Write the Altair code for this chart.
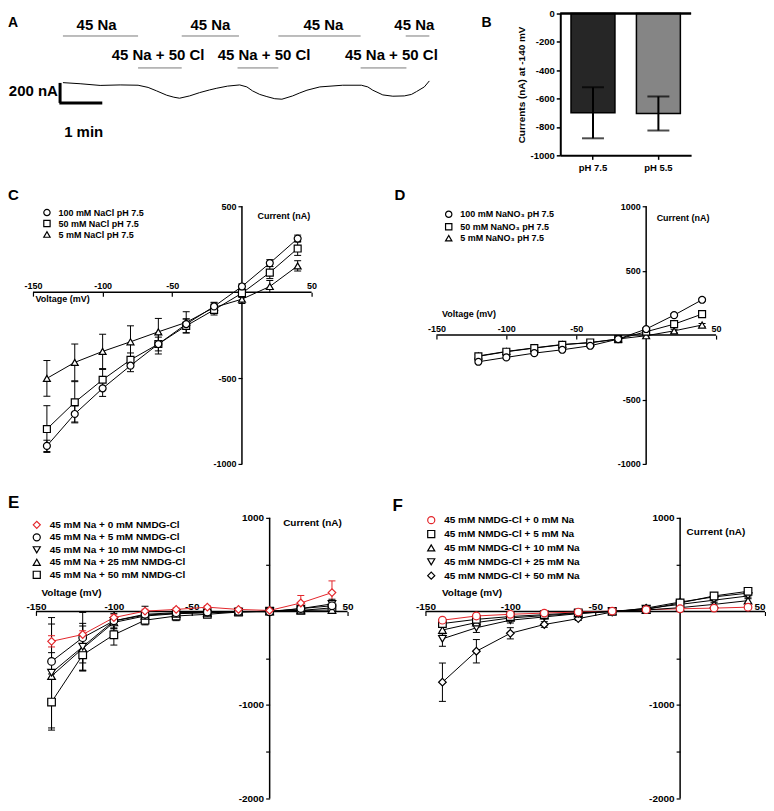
import altair as alt
import pandas as pd

FONT = "Liberation Sans, Arial, Helvetica, DejaVu Sans, sans-serif"
RED = "#e3262b"

# ---------------- Panel A : recorded current trace ----------------
trace_time_s = [0, 24, 52, 80, 105, 119, 131, 145, 155, 163, 177, 191, 205, 215, 230, 247,
                257, 265, 275, 285, 296, 306, 321, 331, 341, 359, 391, 417, 426, 433, 447,
                461, 477, 487, 494, 505, 512]
trace_current_nA = [23, 12, -5, 0, -3, -25, -60, -103, -123, -133, -110, -77, -50, -33, -12, 0,
                    -20, -60, -95, -117, -138, -143, -110, -80, -53, -20, -3, -3, -20, -53, -100,
                    -113, -110, -95, -67, -20, 40]
na_start_s = [0, 166, 301, 479]
na_end_s = [105, 246, 416, 512]
nacl_start_s = [105, 244, 416]
nacl_end_s = [166, 301, 480]
na_text = "45 Na"
nacl_text = "45 Na + 50 Cl"
scale_current_nA = 200
scale_time_s = 60

# ---------------- Panel B ----------------
b_conditions = ["pH 7.5", "pH 5.5"]
b_mean_nA = [-700, -705]
b_sem_nA = [180, 120]

# ---------------- Panel C ----------------
c_voltage = [-140, -120, -100, -80, -60, -40, -20, 0, 20, 40]
c_names = ["100 mM NaCl pH 7.5", "50 mM NaCl pH 7.5", "5 mM NaCl pH 7.5"]
c_100 = [-895, -709, -560, -428, -302, -186, -83, 33, 169, 312]
c_50 = [-797, -641, -510, -394, -302, -196, -103, -6, 114, 254]
c_5 = [-502, -409, -345, -289, -231, -176, -89, -41, 33, 153]
c_100_sem = [33, 47, 47, 35, 58, 30, 20, 15, 20, 20]
c_50_sem = [136, 120, 60, 40, 40, 40, 30, 25, 35, 40]
c_5_sem = [104, 107, 100, 93, 78, 62, 30, 25, 35, 30]

# ---------------- Panel D ----------------
d_voltage = [-120, -100, -80, -60, -40, -20, 0, 20, 40]
d_names = ["100 mM NaNO\u2083 pH 7.5", "50 mM NaNO\u2083 pH 7.5", "5 mM NaNO\u2083 pH 7.5"]
d_100 = [-207, -173, -140, -114, -83, -31, 47, 155, 274]
d_50 = [-165, -129, -101, -75, -57, -31, 26, 85, 163]
d_5 = [-162, -127, -99, -73, -60, -30, -5, 33, 78]
d_100_sem = [12, 12, 12, 12, 12, 10, 10, 12, 12]
d_50_sem = [12, 12, 12, 12, 12, 10, 10, 12, 12]
d_5_sem = [12, 12, 12, 12, 20, 10, 10, 12, 12]

# ---------------- Panel E ----------------
e_voltage = [-140, -120, -100, -80, -60, -40, -20, 0, 20, 40]
e_names = ["45 mM Na + 0 mM NMDG-Cl", "45 mM Na + 5 mM NMDG-Cl", "45 mM Na + 10 mM NMDG-Cl",
           "45 mM Na + 25 mM NMDG-Cl", "45 mM Na + 50 mM NMDG-Cl"]
e_0 = [-320, -247, -66, 3, 21, 45, 21, 10, 90, 201]
e_5 = [-535, -281, -101, -31, -14, -7, 0, -5, 30, 60]
e_10 = [-656, -378, -101, -40, -20, -10, -3, 0, 30, 80]
e_25 = [-691, -396, -118, -49, -25, -15, -5, 0, 10, 15]
e_50 = [-969, -465, -250, -94, -49, -31, -7, 3, 10, 38]
e_0_sem = [60, 40, 30, 20, 15, 15, 15, 15, 80, 125]
e_5_sem = [400, 270, 100, 40, 20, 15, 15, 15, 30, 40]
e_10_sem = [590, 250, 80, 95, 30, 20, 15, 15, 30, 50]
e_25_sem = [250, 240, 60, 40, 25, 15, 15, 15, 20, 20]
e_50_sem = [300, 170, 110, 50, 50, 20, 15, 15, 20, 30]

# ---------------- Panel F ----------------
f_voltage = [-140, -120, -100, -80, -60, -40, -20, 0, 20, 40]
f_names = ["45 mM NMDG-Cl + 0 mM Na", "45 mM NMDG-Cl + 5 mM Na", "45 mM NMDG-Cl + 10 mM Na",
           "45 mM NMDG-Cl + 25 mM Na", "45 mM NMDG-Cl + 50 mM Na"]
f_0 = [-94, -49, -31, -18, -7, 3, 18, 28, 35, 45]
f_5 = [-130, -85, -55, -35, -15, 0, 20, 90, 165, 215]
f_10 = [-199, -119, -70, -45, -20, 0, 15, 40, 75, 115]
f_25 = [-293, -175, -94, -59, -24, 0, 30, 75, 120, 165]
f_50 = [-757, -426, -234, -140, -77, -7, 35, 100, 155, 195]
f_0_sem = [15, 15, 15, 15, 15, 15, 15, 15, 15, 15]
f_5_sem = [20, 20, 15, 15, 15, 15, 15, 20, 30, 35]
f_10_sem = [40, 30, 20, 15, 15, 15, 15, 20, 25, 30]
f_25_sem = [80, 50, 30, 20, 15, 15, 15, 20, 30, 30]
f_50_sem = [205, 125, 60, 30, 20, 15, 15, 20, 35, 30]

voltage_axis_range = [-150, 50]
voltage_tick_values = [-150, -100, -50, 50]


def letter_title(text, size, dx, dy):
    return alt.TitleParams(text=text, anchor="start", frame="group", dx=dx, dy=dy, offset=0,
                           baseline="alphabetic", fontSize=size, fontWeight="bold", font=FONT,
                           color="black")


# =================== Panel A ===================
A_W, A_H = 440, 150
S_PER_PX = 1.3955
xA_scale = alt.Scale(domain=[-76.75, -76.75 + A_W * S_PER_PX], nice=False, zero=False)
yA_scale = alt.Scale(domain=[-785, 715], nice=False, zero=False)


def XA(f):
    return alt.X(f, type="quantitative", scale=xA_scale, axis=None)


def YA(f):
    return alt.Y(f, type="quantitative", scale=yA_scale, axis=None)


# layout of the annotations of panel A (in the trace's own time / current frame)
NA_LEVEL, NACL_LEVEL = 490, 170
NA_LABEL_LEVEL, NACL_LABEL_LEVEL = 595, 303
NA_LABEL_T = [47, 206, 364, 491]
NACL_LABEL_T = [133, 281, 459]
SCALE_T0, SCALE_I0 = -5, -180

df_trace = pd.DataFrame({"t": trace_time_s, "I": trace_current_nA})
df_periods = pd.DataFrame({
    "t": na_start_s + nacl_start_s,
    "t2": na_end_s + nacl_end_s,
    "I": [NA_LEVEL] * len(na_start_s) + [NACL_LEVEL] * len(nacl_start_s),
})
df_labels = pd.DataFrame({
    "t": NA_LABEL_T + NACL_LABEL_T,
    "I": [NA_LABEL_LEVEL] * len(na_start_s) + [NACL_LABEL_LEVEL] * len(nacl_start_s),
    "label": [na_text] * len(na_start_s) + [nacl_text] * len(nacl_start_s),
})
df_sbar_v = pd.DataFrame({"t": [SCALE_T0 + 1], "I": [SCALE_I0], "I2": [SCALE_I0 + scale_current_nA]})
df_sbar_h = pd.DataFrame({"t": [SCALE_T0], "t2": [SCALE_T0 + scale_time_s], "I": [SCALE_I0]})
df_sbar_txt_i = pd.DataFrame({"t": [SCALE_T0 - 2], "I": [SCALE_I0 + 120],
                              "label": [f"{scale_current_nA} nA"]})
df_sbar_txt_t = pd.DataFrame({"t": [SCALE_T0 + 34], "I": [SCALE_I0 - 290],
                              "label": [f"{scale_time_s // 60} min"]})

TXT_A = dict(font=FONT, fontSize=15, fontWeight="bold", color="black", baseline="middle")
trace = alt.Chart(df_trace).mark_line(color="black", strokeWidth=1).encode(x=XA("t"), y=YA("I"))
periods = alt.Chart(df_periods).mark_rule(color="#7a7a7a", strokeWidth=1).encode(
    x=XA("t"), x2="t2", y=YA("I"))
labels = alt.Chart(df_labels).mark_text(align="center", **TXT_A).encode(
    x=XA("t"), y=YA("I"), text="label")
sbar_v = alt.Chart(df_sbar_v).mark_rule(color="black", strokeWidth=3).encode(
    x=XA("t"), y=YA("I"), y2="I2")
sbar_h = alt.Chart(df_sbar_h).mark_rule(color="black", strokeWidth=3).encode(
    x=XA("t"), x2="t2", y=YA("I"))
sbar_ti = alt.Chart(df_sbar_txt_i).mark_text(align="right", **TXT_A).encode(
    x=XA("t"), y=YA("I"), text="label")
sbar_tt = alt.Chart(df_sbar_txt_t).mark_text(align="center", **TXT_A).encode(
    x=XA("t"), y=YA("I"), text="label")

panelA = alt.layer(periods, trace, labels, sbar_v, sbar_h, sbar_ti, sbar_tt).properties(
    width=A_W, height=A_H, title=letter_title("A", 14, 0, 27))

# =================== Panel B ===================
dfB = pd.DataFrame({"cond": b_conditions, "mean": b_mean_nA, "sem": b_sem_nA})
dfB["lo"] = dfB["mean"] - dfB["sem"]
dfB["hi"] = dfB["mean"] + dfB["sem"]

xB = alt.X("cond:N", sort=b_conditions, scale=alt.Scale(paddingInner=0.1, paddingOuter=0.05),
           axis=alt.Axis(title=None, labelAngle=0, labelFont=FONT, labelFontSize=9.5,
                         labelFontWeight="bold", labelColor="black", domainColor="black",
                         domainWidth=2, tickColor="black", tickWidth=1.5, tickSize=4,
                         labelPadding=3))
yB_scale = alt.Scale(domain=[-1000, 0], nice=False, zero=False)
yB_axis = alt.Axis(values=[0, -200, -400, -600, -800, -1000], labelExpr="'' + datum.value",
                   labelFont=FONT, labelFontSize=9.5, labelFontWeight="bold", labelColor="black",
                   domainColor="black", domainWidth=2, tickColor="black", tickWidth=1.5,
                   tickSize=4, labelPadding=2, grid=False, title="Currents (nA) at -140 mV",
                   titleFont=FONT, titleFontSize=10, titleFontWeight="bold", titleColor="black",
                   titlePadding=4)


def YB(f):
    return alt.Y(f, type="quantitative", scale=yB_scale, axis=yB_axis)


barsB = alt.Chart(dfB).mark_bar(size=44, stroke="black", strokeWidth=1.5).encode(
    x=xB, y=YB("mean"),
    fill=alt.Fill("cond:N", scale=alt.Scale(domain=b_conditions, range=["#262626", "#858585"]),
                  legend=None))
errB = alt.Chart(dfB).mark_rule(color="black", strokeWidth=2).encode(x=xB, y=YB("lo"), y2="hi")
capLoB = alt.Chart(dfB).mark_tick(color="black", thickness=2, size=22, orient="horizontal").encode(
    x=xB, y=YB("lo"))
capHiB = alt.Chart(dfB).mark_tick(color="black", thickness=2, size=22, orient="horizontal").encode(
    x=xB, y=YB("hi"))
zeroB = alt.Chart(dfB).mark_rule(color="black", strokeWidth=2).encode(
    y=alt.Y(datum=0, scale=yB_scale, axis=yB_axis))

panelB = alt.layer(barsB, errB, capLoB, capHiB, zeroB).properties(
    width=131, height=142, title=letter_title("B", 14, -79, 32))


# =================== I-V panels ===================
def iv_panel(voltage, names, means, sems, shapes, colors, *, xdom, width, ydom, height,
             yline, yvals, ylabel_expr, font_size, letter, letter_size, letter_dx, letter_dy,
             vtitle_xy, ctitle_xy, legend_xy, legend_rowpad, legend_font, sym_size,
             legend_label_offset, x_label_pad, x_label_flush=False):
    rows = []
    for name, m_list, s_list in zip(names, means, sems):
        for v, m, s in zip(voltage, m_list, s_list):
            rows.append({"series": name, "V": v, "I": m, "lo": m - s, "hi": m + s})
    df = pd.DataFrame(rows)
    df_top_first = df.iloc[::-1].reset_index(drop=True)

    px0 = (0 - xdom[0]) / (xdom[1] - xdom[0]) * width
    py0 = (ydom[1] - 0) / (ydom[1] - ydom[0]) * height
    xs = alt.Scale(domain=xdom, nice=False, zero=False)
    ys = alt.Scale(domain=ydom, nice=False, zero=False)
    xaxis = alt.Axis(orient="bottom", offset=-(height - py0), values=voltage_tick_values,
                     domain=False, grid=False, ticks=True, tickSize=4, tickColor="black",
                     tickWidth=1.2, labelFont=FONT, labelFontSize=font_size,
                     labelFontWeight="bold", labelColor="black", labelAngle=0,
                     labelBaseline="alphabetic", labelPadding=x_label_pad,
                     labelFlush=x_label_flush, labelOverlap=False,
                     labelExpr="'' + datum.value",
                     title="Voltage (mV)", titleFont=FONT, titleFontSize=font_size,
                     titleFontWeight="bold", titleColor="black", titleAngle=0,
                     titleAlign="left", titleBaseline="middle",
                     titleX=vtitle_xy[0], titleY=vtitle_xy[1])
    yaxis = alt.Axis(orient="left", offset=-px0, values=yvals, domain=False, grid=False,
                     ticks=True, tickSize=4, tickColor="black", tickWidth=1.2,
                     labelFont=FONT, labelFontSize=font_size, labelFontWeight="bold",
                     labelColor="black", labelPadding=2, labelFlush=False, labelOverlap=False,
                     labelExpr=ylabel_expr, title="Current (nA)", titleFont=FONT,
                     titleFontSize=font_size, titleFontWeight="bold", titleColor="black",
                     titleAngle=0, titleAlign="left", titleBaseline="middle",
                     titleX=ctitle_xy[0], titleY=ctitle_xy[1])

    def X(f):
        return alt.X(f, type="quantitative", scale=xs, axis=xaxis)

    def Y(f):
        return alt.Y(f, type="quantitative", scale=ys, axis=yaxis)

    stroke_scale = alt.Scale(domain=names, range=colors)
    shape_scale = alt.Scale(domain=names, range=shapes)
    leg = alt.Legend(orient="none", legendX=legend_xy[0], legendY=legend_xy[1], title=None,
                     direction="vertical", labelFont=FONT, labelFontSize=legend_font,
                     labelFontWeight="bold", labelColor="black", symbolSize=sym_size,
                     symbolStrokeWidth=1.2, symbolFillColor="white", rowPadding=legend_rowpad,
                     padding=0, labelOffset=legend_label_offset, labelLimit=400,
                     symbolOffset=0)
    S = alt.Stroke("series:N", scale=stroke_scale, legend=leg)

    xline = alt.Chart(pd.DataFrame({"V": [voltage_axis_range[0]], "V2": [voltage_axis_range[1]],
                                    "I": [0]})).mark_rule(color="black", strokeWidth=1.5).encode(
        x=X("V"), x2="V2", y=Y("I"))
    yl = alt.Chart(pd.DataFrame({"V": [0], "I": [yline[0]], "I2": [yline[1]]})).mark_rule(
        color="black", strokeWidth=1.5).encode(x=X("V"), y=Y("I"), y2="I2")
    lines = alt.Chart(df).mark_line(strokeWidth=1).encode(
        x=X("V"), y=Y("I"), detail="series:N", stroke=S)
    err = alt.Chart(df).mark_rule(strokeWidth=1).encode(
        x=X("V"), y=Y("lo"), y2="hi", stroke=S)
    cap_lo = alt.Chart(df).mark_point(shape="M-1,0L1,0", size=49, strokeWidth=1,
                                      opacity=1).encode(x=X("V"), y=Y("lo"), stroke=S)
    cap_hi = alt.Chart(df).mark_point(shape="M-1,0L1,0", size=49, strokeWidth=1,
                                      opacity=1).encode(x=X("V"), y=Y("hi"), stroke=S)
    pts = alt.Chart(df_top_first).mark_point(filled=True, fill="white", size=sym_size + 8,
                                             strokeWidth=1.2, opacity=1).encode(
        x=X("V"), y=Y("I"),
        shape=alt.Shape("series:N", scale=shape_scale, legend=leg),
        stroke=S)
    return alt.layer(xline, yl, lines, err, cap_lo, cap_hi, pts).properties(
        width=width, height=height, title=letter_title(letter, letter_size, letter_dx, letter_dy))


def xdomain(left_px, x150_px, px_per_mV, width):
    return [-150 - (x150_px - left_px) / px_per_mV, -150 + (left_px + width - x150_px) / px_per_mV]


EF_Y_EXPR = "datum.value % 1000 == 0 ? '' + datum.value : ''"
C_W, D_W, E_W, F_W = 304, 280, 340, 342
CD_H, EF_H = 258, 281

panelC = iv_panel(c_voltage, c_names, [c_100, c_50, c_5], [c_100_sem, c_50_sem, c_5_sem],
                  ["circle", "square", "triangle-up"], ["black"] * 3,
                  xdom=xdomain(8, 33, 1.395, C_W), width=C_W,
                  ydom=[-1000, 500], height=CD_H, yline=[-1000, 500],
                  yvals=[500, -500, -1000], ylabel_expr="'' + datum.value", font_size=9,
                  letter="C", letter_size=15, letter_dx=0, letter_dy=13,
                  vtitle_xy=(27, 6), ctitle_xy=(15, 9), legend_xy=(34.5, 1.8),
                  legend_rowpad=-2.5, legend_font=9, sym_size=40, legend_label_offset=7,
                  x_label_pad=-8)
panelD = iv_panel(d_voltage, d_names, [d_100, d_50, d_5], [d_100_sem, d_50_sem, d_5_sem],
                  ["circle", "square", "triangle-up"], ["black"] * 3,
                  xdom=xdomain(437, 437, 1.4, D_W), width=D_W,
                  ydom=[-1000, 1000], height=CD_H, yline=[-1000, 1000],
                  yvals=[1000, 500, -500, -1000], ylabel_expr="'' + datum.value", font_size=9,
                  letter="D", letter_size=15, letter_dx=-42, letter_dy=13,
                  vtitle_xy=(5, -22), ctitle_xy=(10, 11), legend_xy=(7.8, 3.5),
                  legend_rowpad=-0.5, legend_font=9, sym_size=40, legend_label_offset=7,
                  x_label_pad=-8)
panelE = iv_panel(e_voltage, e_names, [e_0, e_5, e_10, e_25, e_50],
                  [e_0_sem, e_5_sem, e_10_sem, e_25_sem, e_50_sem],
                  ["diamond", "circle", "triangle-down", "triangle-up", "square"],
                  [RED, "black", "black", "black", "black"],
                  xdom=xdomain(8, 36, 1.56, E_W), width=E_W,
                  ydom=[-2000, 1000], height=EF_H, yline=[-2000, 1000],
                  yvals=[1000, 500, -500, -1000, -1500, -2000], ylabel_expr=EF_Y_EXPR,
                  font_size=10, letter="E", letter_size=17, letter_dx=0, letter_dy=12.5,
                  vtitle_xy=(33, -19), ctitle_xy=(13, 5), legend_xy=(23.8, 2),
                  legend_rowpad=0.5, legend_font=10, sym_size=50, legend_label_offset=8,
                  x_label_pad=-6)
panelF = iv_panel(f_voltage, f_names, [f_0, f_5, f_10, f_25, f_50],
                  [f_0_sem, f_5_sem, f_10_sem, f_25_sem, f_50_sem],
                  ["circle", "square", "triangle-up", "triangle-down", "diamond"],
                  [RED, "black", "black", "black", "black"],
                  xdom=xdomain(424, 426, 1.7, F_W), width=F_W,
                  ydom=[-2000, 1000], height=EF_H, yline=[-2000, 1000],
                  yvals=[1000, 500, -500, -1000, -1500, -2000], ylabel_expr=EF_Y_EXPR,
                  font_size=10, letter="F", letter_size=17, letter_dx=-31, letter_dy=15,
                  vtitle_xy=(18, -19), ctitle_xy=(6, 14), legend_xy=(2.8, -2.7),
                  legend_rowpad=1.9, legend_font=10, sym_size=50, legend_label_offset=8,
                  x_label_pad=-6, x_label_flush=True)

IND = dict(shape="independent", stroke="independent")


def row(a, b, spacing):
    return alt.hconcat(a, b, spacing=spacing, bounds="flush").resolve_scale(**IND).resolve_legend(**IND)


row1 = row(panelA, panelB, 113)
row2 = row(panelC, panelD, 125)
row3 = row(panelE, panelF, 76)
rows23 = alt.vconcat(row2, row3, spacing=25).resolve_scale(**IND).resolve_legend(**IND)
chart = alt.vconcat(row1, rows23, spacing=16).resolve_scale(**IND).resolve_legend(**IND).properties(
    padding=0, background="white"
).configure(font=FONT).configure_view(strokeWidth=0, stroke="transparent")

chart.save("out.html", embed_options={"renderer": "svg", "actions": False})
